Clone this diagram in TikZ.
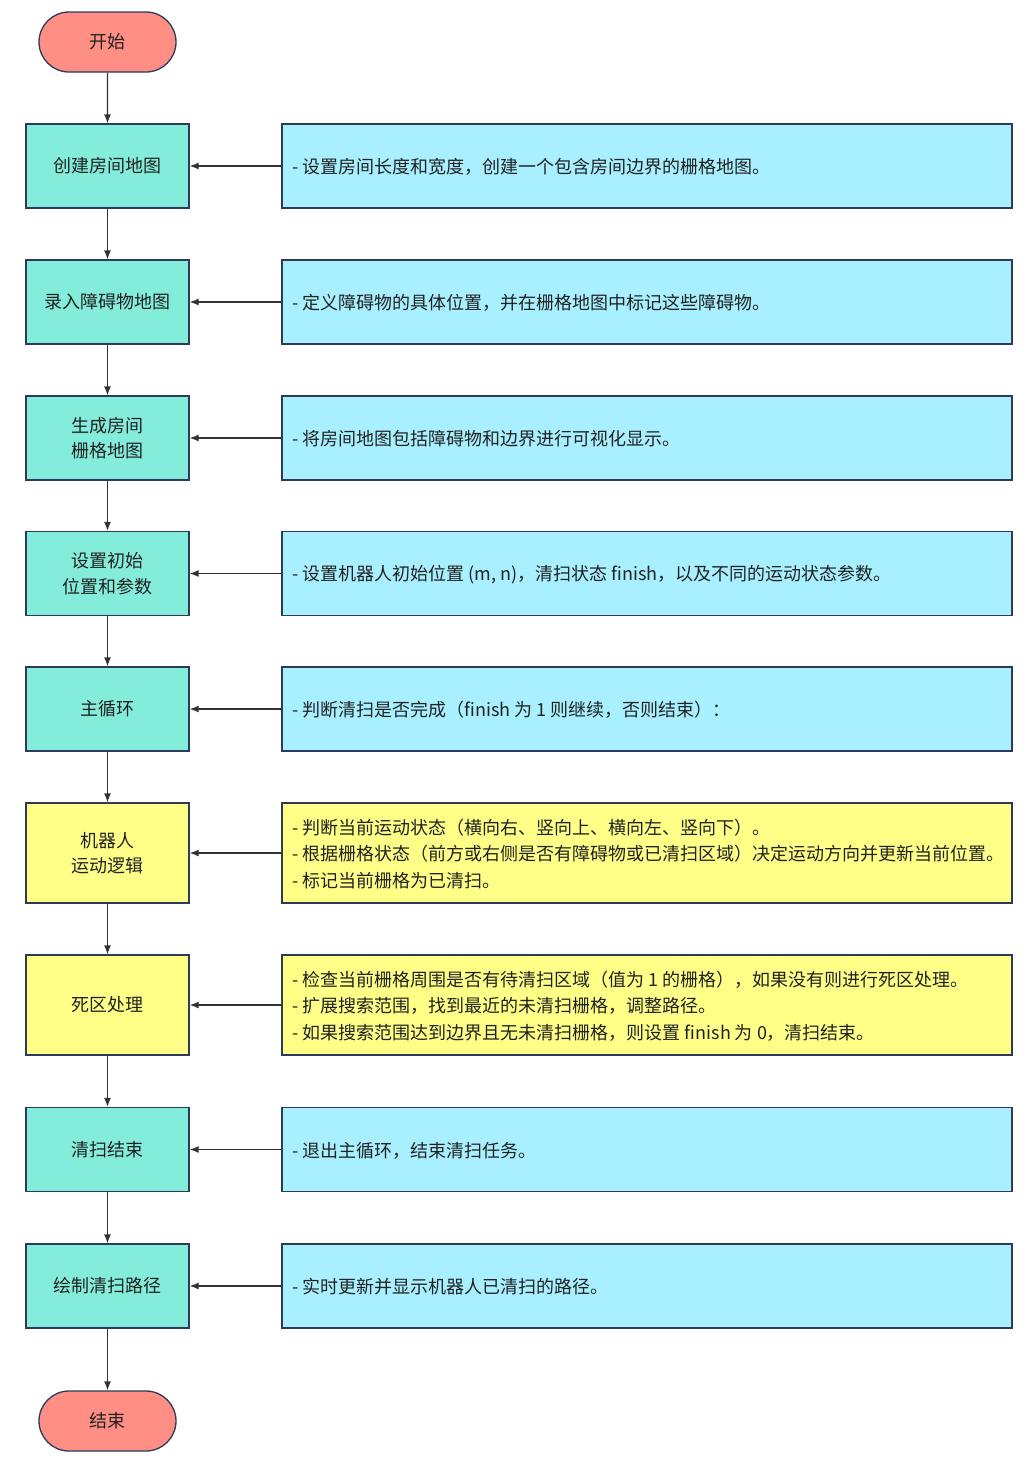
\documentclass[tikz,border=0pt]{standalone}
\usepackage{fontspec}
\setmainfont{Noto Sans CJK SC}
\usetikzlibrary{arrows.meta,shapes.misc,positioning}
\definecolor{teal1}{HTML}{84ECDA}
\definecolor{blue1}{HTML}{A8F0FF}
\definecolor{yel1}{HTML}{FFFF88}
\definecolor{red1}{HTML}{FF8E85}
\definecolor{bord}{HTML}{2E3A5C}
\definecolor{txt}{HTML}{222222}
\definecolor{arr}{HTML}{333333}
\tikzset{
  base/.style={draw=bord, line width=1.3pt, text=txt, font=\fontsize{18}{25.5}\selectfont, align=center, inner sep=0pt},
  term/.style={base, rounded rectangle, fill=red1, minimum width=137pt, minimum height=60pt},
  stepbox/.style={base, rectangle, fill=teal1, minimum width=163pt, minimum height=84pt},
  ystepbox/.style={base, rectangle, fill=yel1, minimum width=163pt, minimum height=100pt},
  notebox/.style={base, rectangle, fill=blue1, minimum width=730pt, minimum height=84pt},
  ynotebox/.style={base, rectangle, fill=yel1, minimum width=730pt, minimum height=100pt},
  desc/.style={text=txt, font=\fontsize{18}{26.5}\selectfont, align=left, inner sep=0pt, anchor=west},
  conn/.style={draw=arr, line width=1.3pt, -{Latex[length=9pt,width=7pt]}},
}
\begin{document}
\begin{tikzpicture}[x=1pt,y=-1pt]
\useasboundingbox[fill=white] (0,0) rectangle (1031,1478);
\node[term] (start) at (107.5,42) {开始};
\node[stepbox] (s1) at (107.5,166) {创建房间地图};
\node[stepbox] (s2) at (107.5,302) {录入障碍物地图};
\node[stepbox] (s3) at (107.5,438) {生成房间\\栅格地图};
\node[stepbox] (s4) at (107.5,573.5) {设置初始\\位置和参数};
\node[stepbox] (s5) at (107.5,709) {主循环};
\node[ystepbox] (s6) at (107.5,853) {机器人\\运动逻辑};
\node[ystepbox] (s7) at (107.5,1005) {死区处理};
\node[stepbox] (s8) at (107.5,1149.5) {清扫结束};
\node[stepbox] (s9) at (107.5,1286) {绘制清扫路径};
\node[term] (stop) at (107.5,1421) {结束};

\node[notebox] (n1) at (647,166) {};
\node[notebox] (n2) at (647,302) {};
\node[notebox] (n3) at (647,438) {};
\node[notebox] (n4) at (647,573.5) {};
\node[notebox] (n5) at (647,709) {};
\node[ynotebox] (n6) at (647,853) {};
\node[ynotebox] (n7) at (647,1005) {};
\node[notebox] (n8) at (647,1149.5) {};
\node[notebox] (n9) at (647,1286) {};

\node[desc] (d1) at ([xshift=11pt,yshift=-1pt]n1.west) {- 设置房间长度和宽度，创建一个包含房间边界的栅格地图。};
\node[desc] (d2) at ([xshift=11pt,yshift=-1pt]n2.west) {- 定义障碍物的具体位置，并在栅格地图中标记这些障碍物。};
\node[desc] (d3) at ([xshift=11pt,yshift=-1pt]n3.west) {- 将房间地图包括障碍物和边界进行可视化显示。};
\node[desc] (d4) at ([xshift=11pt,yshift=-1pt]n4.west) {- 设置机器人初始位置 (m, n)，清扫状态 finish，以及不同的运动状态参数。};
\node[desc] (d5) at ([xshift=11pt,yshift=-1pt]n5.west) {- 判断清扫是否完成（finish 为 1 则继续，否则结束）：};
\node[desc] (d6) at ([xshift=11pt,yshift=-1pt]n6.west) {- 判断当前运动状态（横向右、竖向上、横向左、竖向下）。\\- 根据栅格状态（前方或右侧是否有障碍物或已清扫区域）决定运动方向并更新当前位置。\\- 标记当前栅格为已清扫。};
\node[desc] (d7) at ([xshift=11pt,yshift=-1pt]n7.west) {- 检查当前栅格周围是否有待清扫区域（值为 1 的栅格），如果没有则进行死区处理。\\- 扩展搜索范围，找到最近的未清扫栅格，调整路径。\\- 如果搜索范围达到边界且无未清扫栅格，则设置 finish 为 0，清扫结束。};
\node[desc] (d8) at ([xshift=11pt,yshift=-1pt]n8.west) {- 退出主循环，结束清扫任务。};
\node[desc] (d9) at ([xshift=11pt,yshift=-1pt]n9.west) {- 实时更新并显示机器人已清扫的路径。};

\draw[conn] (start) -- (s1);
\draw[conn] (s1) -- (s2);
\draw[conn] (s2) -- (s3);
\draw[conn] (s3) -- (s4);
\draw[conn] (s4) -- (s5);
\draw[conn] (s5) -- (s6);
\draw[conn] (s6) -- (s7);
\draw[conn] (s7) -- (s8);
\draw[conn] (s8) -- (s9);
\draw[conn] (s9) -- (stop);
\foreach \i in {1,...,9} \draw[conn] (n\i) -- (s\i);
\end{tikzpicture}
\end{document}
